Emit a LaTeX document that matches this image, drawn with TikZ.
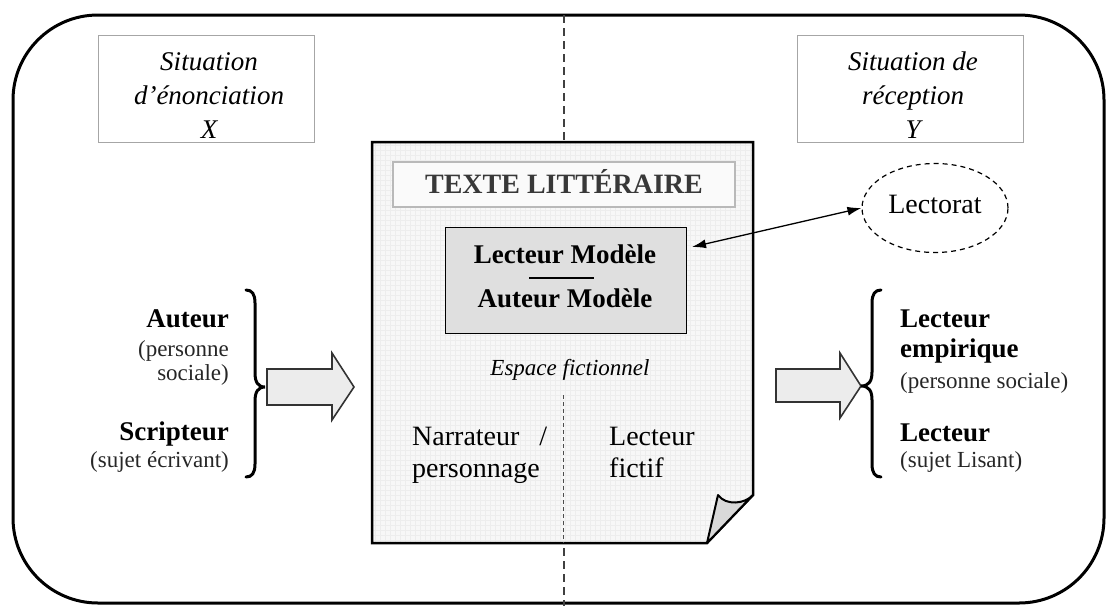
\documentclass[tikz,border=0pt]{standalone}
\usepackage{fontspec}
\setmainfont{Liberation Serif}
\usetikzlibrary{shapes.geometric,arrows.meta}
\begin{document}
\begin{tikzpicture}[x=1pt,y=-1pt,
  bigbf/.style={font=\fontsize{27}{31}\selectfont\bfseries, inner sep=0pt},
  bigrm/.style={font=\fontsize{28}{32}\selectfont, inner sep=0pt},
  bigit/.style={font=\fontsize{27}{34}\selectfont\itshape, inner sep=0pt},
  smallrm/.style={font=\fontsize{23}{23}\selectfont, inner sep=0pt, text=black!85},
  midit/.style={font=\fontsize{23}{26}\selectfont\itshape, inner sep=0pt},
  sitbox/.style={draw=black!35, line width=0.8pt, minimum height=107pt, inner sep=0pt},
  brace/.style={line width=3pt, line cap=round},
  blockarrow/.style={draw=black!80, line width=1.6pt, fill=gray!15, line join=miter},
  dashline/.style={line width=1.4pt, black!75, dash pattern=on 8pt off 5pt},
]
\useasboundingbox (0,0) rectangle (1108,606);

% outer frame and middle separator
\draw[line width=3pt, rounded corners=85pt] (13,15) rectangle (1104,603);
\draw[dashline] (564,15) -- (564,606);

% situation boxes
\node[sitbox, minimum width=216pt] (sitx) at (206,88.5) {};
\node[sitbox, minimum width=226pt] (sity) at (910,88.5) {};
\node[bigit, anchor=base] (sitxt1) at (209,70) {Situation};
\node[bigit, anchor=base] (sitxt2) at (209,104) {d’énonciation};
\node[bigit, anchor=base] (sitxt3) at (209,138) {X};
\node[bigit, anchor=base] (sityt1) at (913,70) {Situation de};
\node[bigit, anchor=base] (sityt2) at (913,104) {réception};
\node[bigit, anchor=base] (sityt3) at (913,138) {Y};

% the page
\path[fill=gray!6] (372,142) -- (753,142) -- (753,495) -- (707,543) -- (372,543) -- cycle;
\begin{scope}
  \clip (372,142) -- (753,142) -- (753,495) -- (707,543) -- (372,543) -- cycle;
  \draw[gray!14, line width=0.3pt, step=5pt] (372,142) grid (753,543);
\end{scope}
\draw[line width=2.5pt, line join=miter] (372,142) -- (753,142) -- (753,495) -- (707,543) -- (372,543) -- cycle;
\draw[line width=2pt, fill=gray!30, line join=round] (707,543) -- (718,495) .. controls (726,506) and (745,504) .. (753,495) -- cycle;

% title
\node[draw=gray!55, line width=2.5pt, fill=gray!4, minimum width=342pt, minimum height=45pt, inner sep=0pt] (title) at (564,184.5) {};
\node[font=\fontsize{28}{32}\selectfont\bfseries, text=black!78, inner sep=0pt, anchor=base] (titletxt) at (564,193) {TEXTE LITTÉRAIRE};

% model box
\node[draw, line width=1pt, fill=gray!25, minimum width=241pt, minimum height=106pt, inner sep=0pt] (model) at (565.5,280) {};
\node[bigbf, anchor=base] (lm) at (565,263) {Lecteur Modèle};
\node[bigbf, anchor=base] (am) at (565,307) {Auteur Modèle};
\coordinate (sepL) at (529,278);
\coordinate (sepR) at (594,278);
\draw[line width=1.2pt] (sepL) -- (sepR);

\node[midit, anchor=base] (esp) at (570,375) {Espace fictionnel};
\draw[line width=1pt, black!70, dash pattern=on 4pt off 3pt] (563,395) -- (563,543);
\node[bigrm, anchor=base west] (narr1) at (412,445) {Narrateur\hspace{13pt} /};
\node[bigrm, anchor=base west] (narr2) at (412,477) {personnage};
\node[bigrm, anchor=base west] (lf1) at (609,445) {Lecteur};
\node[bigrm, anchor=base west] (lf2) at (609,477) {fictif};

% lectorat
\node[draw, ellipse, line width=1.2pt, dash pattern=on 5pt off 4pt, minimum width=146pt, minimum height=89pt, inner sep=0pt] (lect) at (935,208) {};
\node[bigrm, anchor=base] (lecttxt) at (935,213) {Lectorat};
\coordinate (aL) at (692,247);
\draw[line width=1.3pt, {Latex[length=14pt,width=9pt]}-{Latex[length=14pt,width=9pt]}] (aL) -- (lect.west);

% left side
\node[bigbf, anchor=base east] (aut) at (229,327) {Auteur};
\node[smallrm, anchor=base east] (aut2) at (229,356) {(personne};
\node[smallrm, anchor=base east] (aut3) at (229,380) {sociale)};
\node[bigbf, anchor=base east] (scr) at (229,440) {Scripteur};
\node[smallrm, anchor=base east] (scr2) at (229,467) {(sujet écrivant)};
\draw[brace] (246,290) .. controls (252,290) and (255,294) .. (255,303) -- (255,373)
  .. controls (255,382) and (258,387) .. (265,387)
  .. controls (258,387) and (255,392) .. (255,401) -- (255,464)
  .. controls (255,473) and (252,477) .. (246,477);
\draw[blockarrow] (267,369) -- (332,369) -- (332,353) -- (354,387) -- (332,420) -- (332,405) -- (267,405) -- cycle;

% right side
\draw[blockarrow] (776,369) -- (840,369) -- (840,353) -- (861,386) -- (840,418) -- (840,402) -- (776,402) -- cycle;
\draw[brace] (881,290) .. controls (875,290) and (872,294) .. (872,303) -- (872,372)
  .. controls (872,381) and (869,386) .. (861,386)
  .. controls (869,386) and (872,391) .. (872,400) -- (872,464)
  .. controls (872,473) and (875,477) .. (881,477);
\node[bigbf, anchor=base west] (le1) at (900,327) {Lecteur};
\node[bigbf, anchor=base west] (le2) at (900,357) {empirique};
\node[smallrm, anchor=base west] (le3) at (900,388) {(personne sociale)};
\node[bigbf, anchor=base west] (ls1) at (900,441) {Lecteur};
\node[smallrm, anchor=base west] (ls2) at (900,467) {(sujet Lisant)};
\end{tikzpicture}
\end{document}
